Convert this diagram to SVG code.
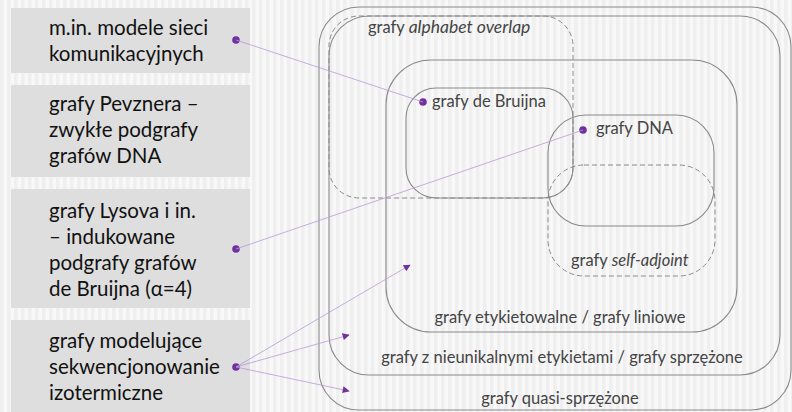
<svg xmlns="http://www.w3.org/2000/svg" width="792" height="412" viewBox="0 0 792 412">
<defs>
<pattern id="stripes" width="7" height="10" patternUnits="userSpaceOnUse">
<rect width="7" height="10" fill="#f8f8f8"/>
<rect x="0" width="3.5" height="10" fill="#efefef"/>
</pattern>
<marker id="arr" viewBox="0 0 10 10" refX="9" refY="5" markerWidth="8" markerHeight="7" markerUnits="userSpaceOnUse" orient="auto">
<path d="M0,0 L10,5 L0,10 z" fill="#7030a0"/>
</marker>
<style>
.lbox{fill:#dedede;}
.ltxt{font-family:Lato,"Open Sans",sans-serif;font-size:20.5px;fill:#111;}
.set{fill:none;stroke:#8a8a8a;stroke-width:1.1;}
.dash{fill:none;stroke:#8a8a8a;stroke-width:1;stroke-dasharray:5,3;}
.stxt{font-family:Lato,"Open Sans",sans-serif;font-size:16.5px;fill:#444;}
.dot{fill:#7030a0;}
.conn{stroke:#b89ad8;stroke-width:0.8;fill:none;}
</style>
</defs>
<rect width="792" height="412" fill="url(#stripes)"/>

<g id="sets">
<g id="quasi"><rect class="set" x="319" y="7" width="472" height="403" rx="40"/>
<text class="stxt" x="560" y="404" text-anchor="middle">grafy quasi-sprzężone</text></g>
<g id="sprzezone"><rect class="set" x="329" y="16" width="451" height="359" rx="40"/>
<text class="stxt" x="562" y="363" text-anchor="middle">grafy z nieunikalnymi etykietami / grafy sprzężone</text></g>
<g id="overlap"><rect class="dash" x="329" y="16" width="244" height="182" rx="30"/>
<text class="stxt" x="368" y="33">grafy <tspan font-style="italic" font-size="17.5px">alphabet overlap</tspan></text></g>
<g id="liniowe"><rect class="set" x="386" y="60" width="351" height="272" rx="45"/>
<text class="stxt" x="560" y="323" text-anchor="middle">grafy etykietowalne / grafy liniowe</text></g>
<g id="bruijn"><rect class="set" x="406" y="88" width="167" height="110" rx="30"/>
<circle class="dot" cx="423" cy="102" r="3.8"/>
<text class="stxt" x="432" y="107">grafy de Bruijna</text></g>
<g id="dna"><rect class="set" x="548" y="115" width="166" height="111" rx="38" fill="#e8eaea" fill-opacity="0.85"/>
<circle class="dot" cx="583" cy="130" r="3.8"/>
<text class="stxt" x="596" y="134">grafy DNA</text></g>
<g id="selfadj"><rect class="dash" x="548" y="165" width="167" height="111" rx="36"/>
<text class="stxt" x="571" y="266">grafy <tspan font-style="italic">self-adjoint</tspan></text></g>
</g>

<g id="box1"><rect class="lbox" x="11" y="8" width="239" height="65"/>
<text class="ltxt" x="49" y="35">m.in. modele sieci</text>
<text class="ltxt" x="49" y="61">komunikacyjnych</text>
<circle class="dot" cx="236" cy="40" r="3.8"/></g>
<g id="box2"><rect class="lbox" x="11" y="85" width="239" height="92"/>
<text class="ltxt" x="49" y="111">grafy Pevznera –</text>
<text class="ltxt" x="49" y="137">zwykłe podgrafy</text>
<text class="ltxt" x="49" y="163">grafów DNA</text></g>
<g id="box3"><rect class="lbox" x="11" y="189" width="239" height="119"/>
<text class="ltxt" x="49" y="218">grafy Lysova i in.</text>
<text class="ltxt" x="49" y="244">– indukowane</text>
<text class="ltxt" x="49" y="270">podgrafy grafów</text>
<text class="ltxt" x="49" y="296">de Bruijna (α=4)</text>
<circle class="dot" cx="236" cy="249" r="3.8"/></g>
<g id="box4"><rect class="lbox" x="11" y="320" width="239" height="95"/>
<text class="ltxt" x="49" y="348">grafy modelujące</text>
<text class="ltxt" x="49" y="374">sekwencjonowanie</text>
<text class="ltxt" x="49" y="400">izotermiczne</text>
<circle class="dot" cx="236" cy="367" r="3.8"/></g>

<g id="connectors">
<line class="conn" x1="236" y1="40" x2="423" y2="102"/>
<line class="conn" x1="236" y1="249" x2="583" y2="130"/>
<line class="conn" x1="236" y1="367" x2="410" y2="265" marker-end="url(#arr)"/>
<line class="conn" x1="236" y1="367" x2="349" y2="335" marker-end="url(#arr)"/>
<line class="conn" x1="236" y1="367" x2="349" y2="391" marker-end="url(#arr)"/>
</g>
</svg>
